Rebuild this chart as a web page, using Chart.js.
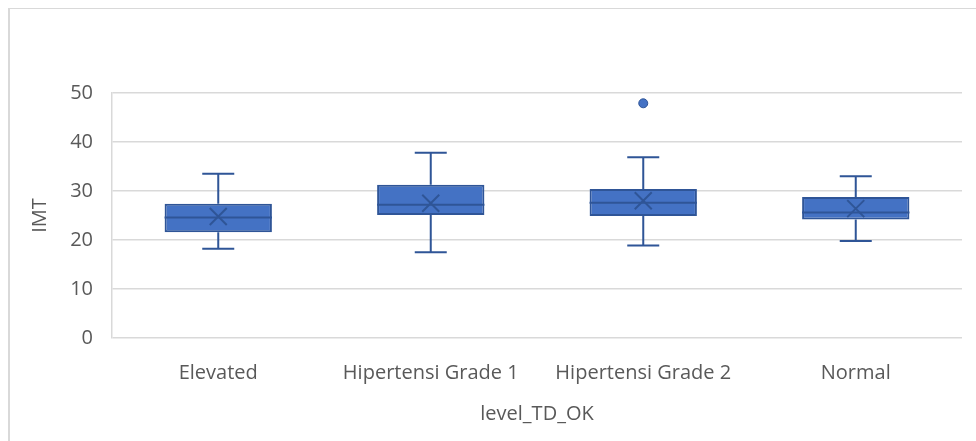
<!DOCTYPE html>
<html>
<head>
<meta charset="utf-8">
<script src="https://cdn.jsdelivr.net/npm/chart.js@4.4.1/dist/chart.umd.min.js"></script>
<style>
  html, body { margin: 0; padding: 0; background: #fff; }
  #wrap { position: relative; width: 976px; height: 441px; overflow: hidden; }
  #frame { position: absolute; left: 8px; top: 8px; right: -4px; bottom: -4px;
           border-left: 2px solid #d9d9d9; border-top: 1px solid #d9d9d9; }
  #chart { position: absolute; left: 0; top: 0; }
</style>
</head>
<body>
<div id="wrap">
  <div id="frame"></div>
  <canvas id="chart" width="976" height="441"></canvas>
</div>
<script>
// --- DATA ---
const categories = ['Elevated', 'Hipertensi Grade 1', 'Hipertensi Grade 2', 'Normal'];
const whiskerLow  = [18.2, 17.5, 18.9, 19.8];
const q1          = [21.6, 25.1, 24.9, 24.2];
const median      = [24.6, 27.2, 27.6, 25.6];
const q3          = [27.4, 31.3, 30.4, 28.8];
const whiskerHigh = [33.5, 37.8, 36.9, 33.0];
const means       = [24.8, 27.5, 28.0, 26.4];
const outliers    = [null, null, 47.9, null];

const yTicks = [0, 10, 20, 30, 40, 50];

const FILL = '#4472C4';
const EDGE = '#2F5597';
const TEXT = '#595959';
const GRID = '#d9d9d9';

// whiskers, caps and median lines, placed with the chart's own scales
const boxExtras = {
    id: 'boxExtras',
    afterDatasetsDraw(chart) {
        const { ctx, scales: { x, y } } = chart;
        const bars = chart.getDatasetMeta(0).data;
        ctx.save();
        ctx.strokeStyle = EDGE;
        ctx.lineWidth = 2;
        categories.forEach((c, i) => {
            const cx = x.getPixelForValue(i);
            const half = bars[i].width / 2;
            const cap = 16;
            ctx.beginPath();
            // upper whisker
            ctx.moveTo(cx, y.getPixelForValue(q3[i]));
            ctx.lineTo(cx, y.getPixelForValue(whiskerHigh[i]));
            ctx.moveTo(cx - cap, y.getPixelForValue(whiskerHigh[i]));
            ctx.lineTo(cx + cap, y.getPixelForValue(whiskerHigh[i]));
            // lower whisker
            ctx.moveTo(cx, y.getPixelForValue(q1[i]));
            ctx.lineTo(cx, y.getPixelForValue(whiskerLow[i]));
            ctx.moveTo(cx - cap, y.getPixelForValue(whiskerLow[i]));
            ctx.lineTo(cx + cap, y.getPixelForValue(whiskerLow[i]));
            // median
            ctx.moveTo(cx - half, y.getPixelForValue(median[i]));
            ctx.lineTo(cx + half, y.getPixelForValue(median[i]));
            ctx.stroke();
        });
        ctx.restore();
    }
};

Chart.defaults.font.family = '"Open Sans", sans-serif';
Chart.defaults.color = TEXT;

new Chart(document.getElementById('chart'), {
    type: 'bar',
    data: {
        labels: categories,
        datasets: [
            {
                label: 'box',
                data: categories.map((c, i) => [q1[i], q3[i]]),
                backgroundColor: FILL,
                borderColor: EDGE,
                borderWidth: 2,
                borderSkipped: false,
                categoryPercentage: 0.505,
                barPercentage: 1.0,
                order: 1
            },
            {
                type: 'line',
                label: 'mean',
                data: means,
                showLine: false,
                pointStyle: 'crossRot',
                pointRadius: 12,
                pointBorderColor: EDGE,
                pointBorderWidth: 2,
                order: 0
            },
            {
                type: 'line',
                label: 'outlier',
                data: outliers,
                showLine: false,
                pointStyle: 'circle',
                pointRadius: 4.5,
                pointBackgroundColor: FILL,
                pointBorderColor: EDGE,
                pointBorderWidth: 1,
                order: 0
            }
        ]
    },
    options: {
        responsive: false,
        animation: false,
        layout: { padding: { top: 93, right: 7, left: 0, bottom: 0 } },
        plugins: { legend: { display: false }, tooltip: { enabled: false } },
        scales: {
            x: {
                grid: { display: false },
                border: { display: false },
                ticks: { font: { size: 20 }, padding: 15, maxRotation: 0 },
                title: { display: true, text: 'level_TD_OK', font: { size: 20 }, padding: { top: 0, bottom: 15 } },
                afterFit(scale) { scale.height = 103; }
            },
            y: {
                min: 0,
                max: 50,
                afterBuildTicks(scale) { scale.ticks = yTicks.map(v => ({ value: v })); },
                grid: { color: GRID, lineWidth: 1.5, drawTicks: false },
                border: { display: true, color: GRID, width: 1.5 },
                ticks: { font: { size: 20 }, padding: 19 },
                title: { display: true, text: 'IMT', font: { size: 20 }, padding: { top: 28, bottom: 0 } },
                afterFit(scale) { scale.width = 112; }
            }
        }
    },
    plugins: [boxExtras]
});
</script>
</body>
</html>
